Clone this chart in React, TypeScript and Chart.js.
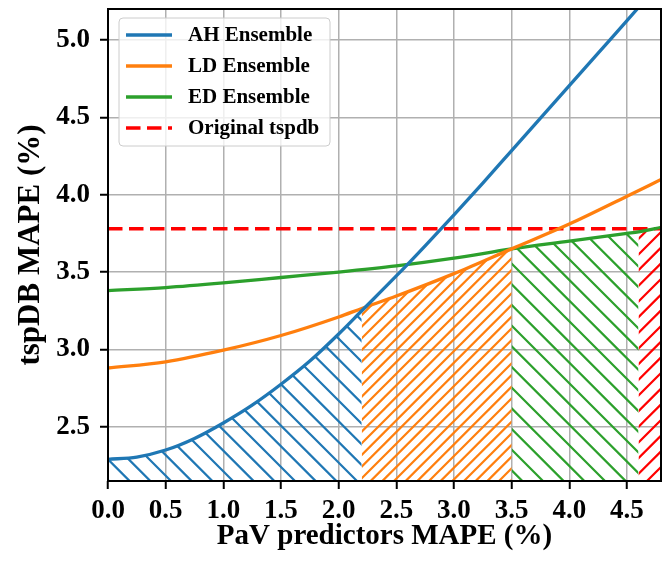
import React, { useEffect, useRef } from 'react';
import { Chart, registerables } from 'chart.js';

Chart.register(...registerables);

// ---- axis ranges & ticks ----
const X_MIN = 0;
const X_MAX = 4.795;
const Y_MIN = 2.15;
const Y_MAX = 5.2;
const X_TICKS = [0, 0.5, 1.0, 1.5, 2.0, 2.5, 3.0, 3.5, 4.0, 4.5];
const Y_TICKS = [2.5, 3.0, 3.5, 4.0, 4.5, 5.0];

// ---- series ----
const AH_X = [0, 0.25, 0.5, 0.75, 1.0, 1.25, 1.5, 1.75, 2.0, 2.2, 2.5, 2.75, 3.0, 3.25, 3.5, 3.75, 4.0, 4.25, 4.5, 4.8];
const AH_Y = [2.29, 2.305, 2.35, 2.425, 2.525, 2.64, 2.775, 2.925, 3.10, 3.25, 3.475, 3.67, 3.87, 4.075, 4.285, 4.495, 4.705, 4.915, 5.125, 5.38];

const LD_X = [0, 0.5, 1.0, 1.5, 2.0, 2.2, 2.5, 3.0, 3.5, 4.0, 4.5, 4.8];
const LD_Y = [2.88, 2.92, 2.995, 3.09, 3.21, 3.265, 3.345, 3.49, 3.65, 3.81, 3.99, 4.10];

const ED_X = [0, 0.5, 1.0, 1.5, 2.0, 2.5, 3.0, 3.5, 4.0, 4.5, 4.6, 4.8];
const ED_Y = [3.38, 3.40, 3.43, 3.465, 3.50, 3.54, 3.59, 3.65, 3.70, 3.75, 3.76, 3.79];

const ORIG_X = [0, 4.6, 4.8];
const ORIG_Y = [3.78, 3.78, 3.78];

// best-model regions: [start, end] per series
const REGION_AH = [0, 2.2];
const REGION_LD = [2.2, 3.5];
const REGION_ED = [3.5, 4.6];
const REGION_ORIG = [4.6, 4.8];

const LABELS = ['AH Ensemble', 'LD Ensemble', 'ED Ensemble', 'Original tspdb'];
const COLORS = ['#1f77b4', '#ff7f0e', '#2ca02c', '#ff0000'];

const FONT = "'Liberation Serif', 'Times New Roman', serif";

function pts(xs: number[], ys: number[]) {
  return xs.map((x, i) => ({ x, y: ys[i] }));
}
function region(xs: number[], ys: number[], r: number[]) {
  return pts(xs, ys).filter((p) => p.x >= r[0] - 1e-9 && p.x <= r[1] + 1e-9);
}

function hatch(color: string, dir: 'back' | 'fwd', tile: number, n: number, lw: number) {
  const c = document.createElement('canvas');
  c.width = tile;
  c.height = tile;
  const g = c.getContext('2d')!;
  g.strokeStyle = color;
  g.lineWidth = lw;
  g.lineCap = 'butt';
  const s = tile / n;
  g.beginPath();
  for (let k = -n - 1; k <= 2 * n + 1; k++) {
    const c0 = k * s;
    if (dir === 'back') {
      g.moveTo(c0 - 2, -2);
      g.lineTo(c0 + tile + 2, tile + 2);
    } else {
      g.moveTo(c0 + 2, -2);
      g.lineTo(c0 - tile - 2, tile + 2);
    }
  }
  g.stroke();
  return g.createPattern(c, 'repeat')!;
}

const framePlugin = {
  id: 'frame',
  afterDatasetsDraw(chart: any) {
    const { ctx, chartArea } = chart;
    ctx.save();
    ctx.strokeStyle = '#000';
    ctx.lineWidth = 2;
    ctx.strokeRect(chartArea.left, chartArea.top, chartArea.right - chartArea.left, chartArea.bottom - chartArea.top);
    ctx.restore();
  },
};

const legendPlugin = {
  id: 'boxLegend',
  afterDraw(chart: any) {
    const { ctx, chartArea } = chart;
    const x0 = chartArea.left + 11;
    const y0 = chartArea.top + 9;
    const w = 211;
    const h = 128;
    const r = 4;
    ctx.save();
    ctx.beginPath();
    ctx.moveTo(x0 + r, y0);
    ctx.lineTo(x0 + w - r, y0);
    ctx.quadraticCurveTo(x0 + w, y0, x0 + w, y0 + r);
    ctx.lineTo(x0 + w, y0 + h - r);
    ctx.quadraticCurveTo(x0 + w, y0 + h, x0 + w - r, y0 + h);
    ctx.lineTo(x0 + r, y0 + h);
    ctx.quadraticCurveTo(x0, y0 + h, x0, y0 + h - r);
    ctx.lineTo(x0, y0 + r);
    ctx.quadraticCurveTo(x0, y0, x0 + r, y0);
    ctx.closePath();
    ctx.fillStyle = 'rgba(255,255,255,0.8)';
    ctx.fill();
    ctx.strokeStyle = '#cccccc';
    ctx.lineWidth = 1;
    ctx.stroke();
    const items = chart.data.datasets.filter((d: any) => !String(d.label).startsWith('_'));
    items.forEach((d: any, i: number) => {
      const y = y0 + 17 + i * 31;
      ctx.beginPath();
      ctx.setLineDash(d.borderDash || []);
      ctx.strokeStyle = d.borderColor;
      ctx.lineWidth = d.borderWidth;
      ctx.moveTo(x0 + 7, y);
      ctx.lineTo(x0 + 53, y);
      ctx.stroke();
      ctx.setLineDash([]);
      ctx.fillStyle = '#000';
      ctx.font = `bold 21px ${FONT}`;
      ctx.textBaseline = 'middle';
      ctx.textAlign = 'left';
      ctx.fillText(d.label, x0 + 69, y + 1);
    });
    ctx.restore();
  },
};

export default function App() {
  const ref = useRef<HTMLCanvasElement>(null);

  useEffect(() => {
    if (!ref.current) return;
    const common = { pointRadius: 0, pointHoverRadius: 0, cubicInterpolationMode: 'monotone' as const };
    const chart = new Chart(ref.current, {
      type: 'line',
      data: {
        datasets: [
          { ...common, label: LABELS[0], data: pts(AH_X, AH_Y), borderColor: COLORS[0], borderWidth: 3.3, fill: false },
          { ...common, label: LABELS[1], data: pts(LD_X, LD_Y), borderColor: COLORS[1], borderWidth: 3.3, fill: false },
          { ...common, label: LABELS[2], data: pts(ED_X, ED_Y), borderColor: COLORS[2], borderWidth: 3.3, fill: false },
          { ...common, label: LABELS[3], data: pts(ORIG_X, ORIG_Y), borderColor: COLORS[3], borderWidth: 3.6, borderDash: [14.5, 6.5], fill: false },
          { ...common, label: '_fillAH', data: region(AH_X, AH_Y, REGION_AH), borderWidth: 0, borderColor: 'rgba(0,0,0,0)', backgroundColor: hatch(COLORS[0], 'back', 62, 3, 2.2), fill: 'start' },
          { ...common, label: '_fillLD', data: region(LD_X, LD_Y, REGION_LD), borderWidth: 0, borderColor: 'rgba(0,0,0,0)', backgroundColor: hatch(COLORS[1], 'fwd', 35, 3, 2.2), fill: 'start' },
          { ...common, label: '_fillED', data: region(ED_X, ED_Y, REGION_ED), borderWidth: 0, borderColor: 'rgba(0,0,0,0)', backgroundColor: hatch(COLORS[2], 'back', 62, 3, 2.2), fill: 'start' },
          { ...common, label: '_fillOrig', data: region(ORIG_X, ORIG_Y, REGION_ORIG), borderWidth: 0, borderColor: 'rgba(0,0,0,0)', backgroundColor: hatch(COLORS[3], 'fwd', 47, 3, 2.2), fill: 'start' },
        ],
      },
      options: {
        responsive: false,
        animation: false,
        devicePixelRatio: 1,
        layout: { padding: { top: 9, right: 6, left: 0, bottom: 0 } },
        plugins: {
          legend: { display: false },
          tooltip: { enabled: false },
        },
        scales: {
          x: {
            type: 'linear',
            min: X_MIN,
            max: X_MAX,
            afterBuildTicks: (s: any) => {
              s.ticks = X_TICKS.map((v) => ({ value: v }));
            },
            afterFit: (s: any) => {
              s.height = 82;
              s.paddingLeft = 0;
              s.paddingRight = 0;
            },
            ticks: {
              callback: (v: any) => Number(v).toFixed(1),
              font: { family: FONT, size: 27, weight: 'bold' },
              color: '#000',
              padding: 6,
              maxRotation: 0,
              autoSkip: false,
            },
            grid: { color: '#b0b0b0', lineWidth: 1.5, tickLength: 8, tickColor: '#000', tickWidth: 2 },
            border: { display: false },
            title: {
              display: true,
              text: 'PaV predictors MAPE (%)',
              font: { family: FONT, size: 29, weight: 'bold' },
              color: '#000',
              padding: { top: 0, bottom: 9 },
            },
          },
          y: {
            type: 'linear',
            min: Y_MIN,
            max: Y_MAX,
            afterBuildTicks: (s: any) => {
              s.ticks = Y_TICKS.map((v) => ({ value: v }));
            },
            afterFit: (s: any) => {
              s.width = 108;
              s.paddingTop = 0;
              s.paddingBottom = 0;
            },
            ticks: {
              callback: (v: any) => Number(v).toFixed(1),
              font: { family: FONT, size: 27, weight: 'bold' },
              color: '#000',
              padding: 10,
              autoSkip: false,
            },
            grid: { color: '#b0b0b0', lineWidth: 1.5, tickLength: 8, tickColor: '#000', tickWidth: 2 },
            border: { display: false },
            title: {
              display: true,
              text: 'tspDB MAPE (%)',
              font: { family: FONT, size: 31, weight: 'bold' },
              color: '#000',
              padding: { top: 12, bottom: 0 },
            },
          },
        },
      },
      plugins: [framePlugin, legendPlugin],
    } as any);
    return () => chart.destroy();
  }, []);

  return (
    <div style={{ position: 'fixed', left: 0, top: 0, width: 667, height: 563, background: '#fff' }}>
      <canvas ref={ref} width={667} height={563} style={{ width: 667, height: 563, display: 'block' }} />
    </div>
  );
}
